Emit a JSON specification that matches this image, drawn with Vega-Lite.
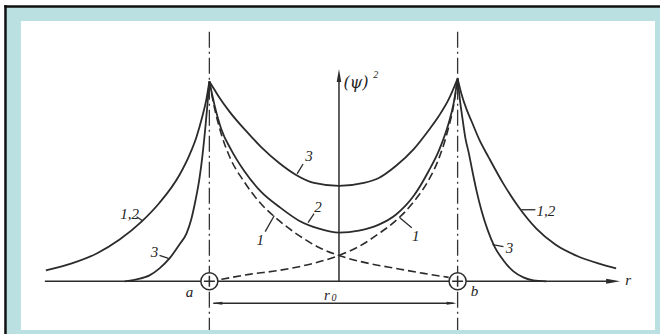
{
  "$schema": "https://vega.github.io/schema/vega-lite/v6.json",
  "width": 662,
  "height": 336,
  "padding": 0,
  "autosize": {"type": "fit", "contains": "padding"},
  "background": "white",
  "config": {"view": {"stroke": null}},
  "datasets": {
    "teal": [{"r": -3.34, "r2": 3.22, "p": 2.76, "p2": -0.53}],
    "panel": [{"r": -3.19, "r2": 3.17, "p": 2.62, "p2": -0.49}],
    "border": [
      {"r": -3.355, "r2": 3.22, "p": 2.765, "p2": 2.765},
      {"r": -3.345, "r2": -3.345, "p": 2.78, "p2": -0.53}
    ],
    "centres": [
      {"r": -1.30, "r2": -1.30, "p": 2.51, "p2": -0.49},
      {"r": 1.19, "r2": 1.19, "p": 2.51, "p2": -0.49}
    ],
    "axes": [
      {"r": -2.95, "r2": 2.74, "p": 0, "p2": 0},
      {"r": 0, "r2": 0, "p": 0, "p2": 2.08},
      {"r": -1.26, "r2": 1.15, "p": -0.22, "p2": -0.22}
    ],
    "solid": [
      {"curve": "1,2 left", "r": -2.94, "p": 0.11},
      {"curve": "1,2 left", "r": -2.68, "p": 0.18},
      {"curve": "1,2 left", "r": -2.43, "p": 0.28},
      {"curve": "1,2 left", "r": -2.20, "p": 0.42},
      {"curve": "1,2 left", "r": -1.98, "p": 0.60},
      {"curve": "1,2 left", "r": -1.80, "p": 0.79},
      {"curve": "1,2 left", "r": -1.60, "p": 1.07},
      {"curve": "1,2 left", "r": -1.50, "p": 1.27},
      {"curve": "1,2 left", "r": -1.43, "p": 1.45},
      {"curve": "1,2 left", "r": -1.37, "p": 1.66},
      {"curve": "1,2 left", "r": -1.33, "p": 1.83},
      {"curve": "1,2 left", "r": -1.30, "p": 2.01},
      {"curve": "1,2 right", "r": 1.19, "p": 2.04},
      {"curve": "1,2 right", "r": 1.23, "p": 1.88},
      {"curve": "1,2 right", "r": 1.28, "p": 1.73},
      {"curve": "1,2 right", "r": 1.33, "p": 1.61},
      {"curve": "1,2 right", "r": 1.41, "p": 1.42},
      {"curve": "1,2 right", "r": 1.50, "p": 1.25},
      {"curve": "1,2 right", "r": 1.65, "p": 0.98},
      {"curve": "1,2 right", "r": 1.80, "p": 0.75},
      {"curve": "1,2 right", "r": 1.98, "p": 0.53},
      {"curve": "1,2 right", "r": 2.17, "p": 0.37},
      {"curve": "1,2 right", "r": 2.40, "p": 0.25},
      {"curve": "1,2 right", "r": 2.60, "p": 0.18},
      {"curve": "1,2 right", "r": 2.78, "p": 0.13},
      {"curve": "3 left", "r": -2.15, "p": 0.00},
      {"curve": "3 left", "r": -2.03, "p": 0.02},
      {"curve": "3 left", "r": -1.90, "p": 0.06},
      {"curve": "3 left", "r": -1.80, "p": 0.13},
      {"curve": "3 left", "r": -1.70, "p": 0.23},
      {"curve": "3 left", "r": -1.60, "p": 0.37},
      {"curve": "3 left", "r": -1.53, "p": 0.48},
      {"curve": "3 left", "r": -1.48, "p": 0.63},
      {"curve": "3 left", "r": -1.44, "p": 0.81},
      {"curve": "3 left", "r": -1.40, "p": 1.03},
      {"curve": "3 left", "r": -1.37, "p": 1.26},
      {"curve": "3 left", "r": -1.34, "p": 1.55},
      {"curve": "3 left", "r": -1.32, "p": 1.77},
      {"curve": "3 left", "r": -1.30, "p": 2.01},
      {"curve": "3 right", "r": 1.19, "p": 2.04},
      {"curve": "3 right", "r": 1.21, "p": 1.85},
      {"curve": "3 right", "r": 1.24, "p": 1.63},
      {"curve": "3 right", "r": 1.27, "p": 1.43},
      {"curve": "3 right", "r": 1.30, "p": 1.30},
      {"curve": "3 right", "r": 1.34, "p": 1.10},
      {"curve": "3 right", "r": 1.38, "p": 0.91},
      {"curve": "3 right", "r": 1.43, "p": 0.71},
      {"curve": "3 right", "r": 1.49, "p": 0.52},
      {"curve": "3 right", "r": 1.56, "p": 0.35},
      {"curve": "3 right", "r": 1.65, "p": 0.21},
      {"curve": "3 right", "r": 1.75, "p": 0.10},
      {"curve": "3 right", "r": 1.85, "p": 0.04},
      {"curve": "3 right", "r": 1.95, "p": 0.01},
      {"curve": "3 right", "r": 2.08, "p": 0.00},
      {"curve": "3 inner", "r": -1.30, "p": 2.01},
      {"curve": "3 inner", "r": -1.25, "p": 1.93},
      {"curve": "3 inner", "r": -1.20, "p": 1.85},
      {"curve": "3 inner", "r": -1.10, "p": 1.71},
      {"curve": "3 inner", "r": -0.93, "p": 1.51},
      {"curve": "3 inner", "r": -0.78, "p": 1.35},
      {"curve": "3 inner", "r": -0.60, "p": 1.19},
      {"curve": "3 inner", "r": -0.43, "p": 1.07},
      {"curve": "3 inner", "r": -0.25, "p": 0.99},
      {"curve": "3 inner", "r": 0.00, "p": 0.96},
      {"curve": "3 inner", "r": 0.25, "p": 0.99},
      {"curve": "3 inner", "r": 0.40, "p": 1.04},
      {"curve": "3 inner", "r": 0.57, "p": 1.16},
      {"curve": "3 inner", "r": 0.75, "p": 1.33},
      {"curve": "3 inner", "r": 0.90, "p": 1.52},
      {"curve": "3 inner", "r": 1.00, "p": 1.66},
      {"curve": "3 inner", "r": 1.10, "p": 1.83},
      {"curve": "3 inner", "r": 1.19, "p": 2.04},
      {"curve": "2 inner", "r": -1.30, "p": 2.01},
      {"curve": "2 inner", "r": -1.25, "p": 1.78},
      {"curve": "2 inner", "r": -1.18, "p": 1.53},
      {"curve": "2 inner", "r": -1.08, "p": 1.32},
      {"curve": "2 inner", "r": -0.95, "p": 1.11},
      {"curve": "2 inner", "r": -0.78, "p": 0.90},
      {"curve": "2 inner", "r": -0.60, "p": 0.75},
      {"curve": "2 inner", "r": -0.40, "p": 0.61},
      {"curve": "2 inner", "r": -0.20, "p": 0.53},
      {"curve": "2 inner", "r": 0.00, "p": 0.49},
      {"curve": "2 inner", "r": 0.20, "p": 0.51},
      {"curve": "2 inner", "r": 0.40, "p": 0.57},
      {"curve": "2 inner", "r": 0.57, "p": 0.67},
      {"curve": "2 inner", "r": 0.75, "p": 0.86},
      {"curve": "2 inner", "r": 0.90, "p": 1.11},
      {"curve": "2 inner", "r": 1.00, "p": 1.31},
      {"curve": "2 inner", "r": 1.10, "p": 1.59},
      {"curve": "2 inner", "r": 1.15, "p": 1.79},
      {"curve": "2 inner", "r": 1.19, "p": 2.04}
    ],
    "dashed": [
      {"curve": "1 a", "r": -1.30, "p": 2.01},
      {"curve": "1 a", "r": -1.25, "p": 1.75},
      {"curve": "1 a", "r": -1.18, "p": 1.48},
      {"curve": "1 a", "r": -1.10, "p": 1.26},
      {"curve": "1 a", "r": -0.95, "p": 1.00},
      {"curve": "1 a", "r": -0.80, "p": 0.80},
      {"curve": "1 a", "r": -0.60, "p": 0.61},
      {"curve": "1 a", "r": -0.40, "p": 0.46},
      {"curve": "1 a", "r": -0.20, "p": 0.34},
      {"curve": "1 a", "r": 0.00, "p": 0.26},
      {"curve": "1 a", "r": 0.30, "p": 0.18},
      {"curve": "1 a", "r": 0.57, "p": 0.13},
      {"curve": "1 a", "r": 0.85, "p": 0.08},
      {"curve": "1 a", "r": 1.10, "p": 0.04},
      {"curve": "1 b", "r": -1.18, "p": 0.02},
      {"curve": "1 b", "r": -0.90, "p": 0.07},
      {"curve": "1 b", "r": -0.60, "p": 0.11},
      {"curve": "1 b", "r": -0.30, "p": 0.17},
      {"curve": "1 b", "r": 0.00, "p": 0.26},
      {"curve": "1 b", "r": 0.20, "p": 0.35},
      {"curve": "1 b", "r": 0.40, "p": 0.48},
      {"curve": "1 b", "r": 0.57, "p": 0.61},
      {"curve": "1 b", "r": 0.75, "p": 0.80},
      {"curve": "1 b", "r": 0.90, "p": 1.02},
      {"curve": "1 b", "r": 1.00, "p": 1.23},
      {"curve": "1 b", "r": 1.10, "p": 1.55},
      {"curve": "1 b", "r": 1.15, "p": 1.77},
      {"curve": "1 b", "r": 1.19, "p": 2.04}
    ],
    "leaders": [
      {"r": -0.36, "r2": -0.42, "p": 1.18, "p2": 1.08},
      {"r": -0.25, "r2": -0.31, "p": 0.68, "p2": 0.59},
      {"r": -0.74, "r2": -0.65, "p": 0.50, "p2": 0.66},
      {"r": 0.73, "r2": 0.61, "p": 0.54, "p2": 0.64},
      {"r": -2.03, "r2": -1.97, "p": 0.65, "p2": 0.61},
      {"r": 1.83, "r2": 1.97, "p": 0.72, "p2": 0.72},
      {"r": -1.80, "r2": -1.71, "p": 0.26, "p2": 0.23},
      {"r": 1.54, "r2": 1.65, "p": 0.37, "p2": 0.35}
    ],
    "nuclei": [{"r": -1.30, "p": 0}, {"r": 1.19, "p": 0}],
    "arrowR": [{"r": 2.75, "p": 0}],
    "arrowUp": [{"r": 0, "p": 2.07}],
    "arrowL0": [{"r": -1.22, "p": -0.22}],
    "arrowR0": [{"r": 1.13, "p": -0.22}],
    "labels": [
      {"t": "3", "r": -0.30, "p": 1.26},
      {"t": "2", "r": -0.21, "p": 0.75},
      {"t": "1", "r": -0.79, "p": 0.42},
      {"t": "1", "r": 0.77, "p": 0.46},
      {"t": "1,2", "r": -2.10, "p": 0.68},
      {"t": "1,2", "r": 2.075, "p": 0.705},
      {"t": "3", "r": -1.85, "p": 0.29},
      {"t": "3", "r": 1.71, "p": 0.34},
      {"t": "a", "r": -1.50, "p": -0.11},
      {"t": "b", "r": 1.36, "p": -0.10},
      {"t": "r", "r": 2.90, "p": 0.01},
      {"t": "r", "r": -0.12, "p": -0.14}
    ],
    "psi": [{"t": "(ψ)", "r": 0.17, "p": 2.00}],
    "small": [
      {"t": "2", "r": 0.37, "p": 2.08},
      {"t": "0", "r": -0.05, "p": -0.17}
    ]
  },
  "encoding": {
    "x": {"field": "r", "type": "quantitative", "scale": {"domain": [-3.40, 3.22], "nice": false, "zero": false}, "axis": null},
    "y": {"field": "p", "type": "quantitative", "scale": {"domain": [-0.53, 2.83], "nice": false, "zero": false}, "axis": null}
  },
  "layer": [
    {"data": {"name": "teal"}, "mark": {"type": "rect", "fill": "#bbe0e2"}, "encoding": {"x2": {"field": "r2"}, "y2": {"field": "p2"}}},
    {"data": {"name": "panel"}, "mark": {"type": "rect", "fill": "#ffffff"}, "encoding": {"x2": {"field": "r2"}, "y2": {"field": "p2"}}},
    {"data": {"name": "border"}, "mark": {"type": "rule", "stroke": "#111111", "strokeWidth": 2.5}, "encoding": {"x2": {"field": "r2"}, "y2": {"field": "p2"}}},
    {"data": {"name": "centres"}, "mark": {"type": "rule", "stroke": "#333333", "strokeWidth": 1.3, "strokeDash": [16, 4, 2, 4]}, "encoding": {"x2": {"field": "r2"}, "y2": {"field": "p2"}}},
    {"data": {"name": "axes"}, "mark": {"type": "rule", "stroke": "#2b2b2b", "strokeWidth": 1.5}, "encoding": {"x2": {"field": "r2"}, "y2": {"field": "p2"}}},
    {"data": {"name": "dashed"}, "mark": {"type": "line", "interpolate": "monotone", "stroke": "#2b2b2b", "strokeWidth": 1.6, "strokeDash": [8, 4]}, "encoding": {"detail": {"field": "curve", "type": "nominal"}}},
    {"data": {"name": "solid"}, "mark": {"type": "line", "interpolate": "monotone", "stroke": "#2b2b2b", "strokeWidth": 1.8}, "encoding": {"detail": {"field": "curve", "type": "nominal"}}},
    {"data": {"name": "leaders"}, "mark": {"type": "rule", "stroke": "#2b2b2b", "strokeWidth": 1.3}, "encoding": {"x2": {"field": "r2"}, "y2": {"field": "p2"}}},
    {"data": {"name": "nuclei"}, "mark": {"type": "point", "shape": "circle", "size": 290, "filled": true, "fill": "#ffffff", "stroke": "#2b2b2b", "strokeWidth": 1.5, "opacity": 1}},
    {"data": {"name": "nuclei"}, "mark": {"type": "point", "shape": "M-1,0L1,0M0,-1L0,1", "size": 120, "filled": false, "stroke": "#2b2b2b", "strokeWidth": 1.5, "opacity": 1}},
    {"data": {"name": "arrowR"}, "mark": {"type": "point", "shape": "M1,0L-1,-0.35L-1,0.35Z", "size": 196, "filled": true, "fill": "#2b2b2b", "opacity": 1}},
    {"data": {"name": "arrowUp"}, "mark": {"type": "point", "shape": "M0,-1L0.35,1L-0.35,1Z", "size": 169, "filled": true, "fill": "#2b2b2b", "opacity": 1}},
    {"data": {"name": "arrowL0"}, "mark": {"type": "point", "shape": "M-1,0L1,-0.3L1,0.3Z", "size": 100, "filled": true, "fill": "#2b2b2b", "opacity": 1}},
    {"data": {"name": "arrowR0"}, "mark": {"type": "point", "shape": "M1,0L-1,-0.3L-1,0.3Z", "size": 100, "filled": true, "fill": "#2b2b2b", "opacity": 1}},
    {"data": {"name": "labels"}, "mark": {"type": "text", "font": "Liberation Serif", "fontStyle": "italic", "fontSize": 15, "fill": "#222222", "align": "center", "baseline": "middle"}, "encoding": {"text": {"field": "t"}}},
    {"data": {"name": "psi"}, "mark": {"type": "text", "font": "DejaVu Serif", "fontStyle": "italic", "fontSize": 16, "fill": "#222222", "align": "center", "baseline": "middle"}, "encoding": {"text": {"field": "t"}}},
    {"data": {"name": "small"}, "mark": {"type": "text", "font": "Liberation Serif", "fontStyle": "italic", "fontSize": 10, "fill": "#222222", "align": "center", "baseline": "middle"}, "encoding": {"text": {"field": "t"}}}
  ]
}
